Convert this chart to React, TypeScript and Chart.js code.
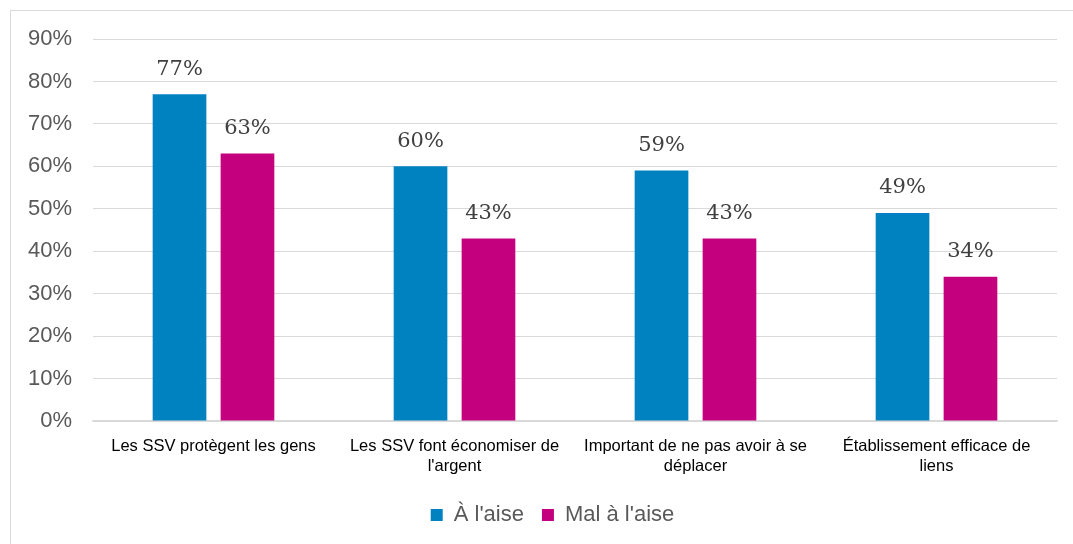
import React, { useEffect, useRef } from "react";
import { Chart, registerables } from "chart.js";

Chart.register(...registerables);

const categories: (string | string[])[] = [
  "Les SSV protègent les gens",
  ["Les SSV font économiser de", "l'argent"],
  ["Important de ne pas avoir à se", "déplacer"],
  ["Établissement efficace de", "liens"],
];
const seriesNames = ["À l'aise", "Mal à l'aise"];
const aLaise = [77, 60, 59, 49];
const malALaise = [63, 43, 43, 34];
const yTicksMax = 90;
const yTickStep = 10;

const colors = ["#0082C1", "#C5007F"];

const dataLabelPlugin = {
  id: "dataLabels",
  afterDatasetsDraw(chart: any) {
    const ctx = chart.ctx;
    ctx.save();
    ctx.font = "21px 'DejaVu Serif'";
    ctx.fillStyle = "#404040";
    ctx.textAlign = "center";
    ctx.textBaseline = "middle";
    chart.data.datasets.forEach((ds: any, di: number) => {
      const meta = chart.getDatasetMeta(di);
      meta.data.forEach((bar: any, i: number) => {
        ctx.fillText(ds.data[i] + "%", bar.x, bar.y - 25);
      });
    });
    ctx.restore();
  },
};

const legendShiftPlugin = {
  id: "legendShift",
  afterLayout(chart: any) {
    const lg = chart.legend;
    if (lg) {
      lg.left += 18;
      lg.right += 18;
    }
  },
};

export default function App() {
  const ref = useRef<HTMLCanvasElement>(null);
  useEffect(() => {
    if (!ref.current) return;
    const chart = new Chart(ref.current, {
      type: "bar",
      data: {
        labels: categories,
        datasets: [
          { label: seriesNames[0], data: aLaise, backgroundColor: colors[0] },
          { label: seriesNames[1], data: malALaise, backgroundColor: colors[1] },
        ],
      },
      options: {
        responsive: false,
        animation: false,
        layout: { padding: { top: 39, left: 12, right: 16, bottom: 8 } },
        datasets: {
          bar: { categoryPercentage: 0.564, barPercentage: 0.79 },
        } as any,
        scales: {
          x: {
            grid: { display: false, drawTicks: false },
            border: { display: true, color: "#d9d9d9", width: 1.5 },
            ticks: {
              font: { family: "'Liberation Sans'", size: 16.5, lineHeight: 1.22 },
              color: "#000000",
              padding: 15,
              maxRotation: 0,
              autoSkip: false,
            },
            afterFit(scale: any) {
              scale.height = 65;
            },
          },
          y: {
            min: 0,
            max: yTicksMax,
            grid: { color: "#d9d9d9", drawTicks: false },
            border: { display: false },
            ticks: {
              stepSize: yTickStep,
              font: { family: "'Liberation Sans'", size: 22 },
              color: "#595959",
              padding: 21,
              callback: (v: any) => v + "%",
            },
            afterFit(scale: any) {
              scale.width = 81;
            },
          },
        },
        plugins: {
          legend: {
            position: "bottom",
            labels: {
              boxWidth: 12,
              boxHeight: 12,
              padding: 18,
              color: "#595959",
              font: { family: "'Liberation Sans'", size: 22 },
            },
          },
          tooltip: { enabled: false },
        },
      },
      plugins: [dataLabelPlugin, legendShiftPlugin],
    });
    return () => chart.destroy();
  }, []);

  return (
    <div style={{ position: "absolute", left: 0, top: 0, width: 1073, height: 544, background: "#fff", overflow: "hidden" }}>
      <div
        style={{
          position: "absolute",
          left: 10,
          top: 10,
          width: 1063,
          height: 534,
          boxSizing: "border-box",
          borderLeft: "1px solid #d9d9d9",
          borderTop: "1px solid #d9d9d9",
        }}
      />
      <canvas ref={ref} width={1073} height={544} style={{ position: "absolute", left: 0, top: 0 }} />
    </div>
  );
}
